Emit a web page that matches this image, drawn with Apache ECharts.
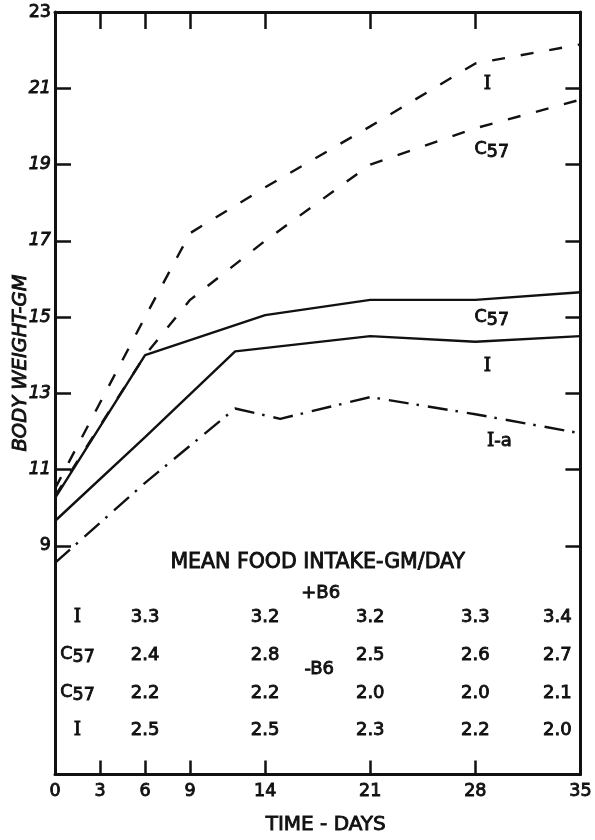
<!DOCTYPE html>
<html><head><meta charset="utf-8">
<script src="https://cdn.jsdelivr.net/npm/echarts@6/dist/echarts.min.js"></script>
<style>html,body{margin:0;padding:0;background:#fff}#c{width:595px;height:840px}</style>
</head><body><div id="c"></div>
<script>
// ---- tick labels ----
const xTicks = [0, 3, 6, 9, 14, 21, 28, 35];
const yTicks = [9, 11, 13, 15, 17, 19, 21, 23];

// ---- body weight curves [day, grams] ----
const dashedI   = [[0,10.5],[6,15.0],[9,17.2],[14,18.4],[21,20.0],[28,21.65],[35,22.15]];
const dashedC57 = [[0,10.3],[6,14.0],[9,15.45],[14,17.0],[21,19.0],[28,19.95],[35,20.7]];
const solidC57  = [[0,10.25],[6,14.0],[14,15.05],[21,15.45],[28,15.45],[35,15.65]];
const solidI    = [[0,9.65],[6,11.85],[12,14.1],[21,14.5],[28,14.35],[35,14.5]];
const dashDotIa = [[0,8.55],[6,10.65],[12,12.6],[15,12.33],[21,12.9],[28,12.45],[35,11.95]];
const curveNames = ['I', 'C57', 'C57', 'I', 'I-a'];

// ---- mean food intake table (gm/day) ----
const foodDays     = [6, 14, 21, 28, 35];
const foodStrains  = ['I', 'C57', 'C57', 'I'];
const foodIplus    = [3.3, 3.2, 3.2, 3.3, 3.4];
const foodC57plus  = [2.4, 2.8, 2.5, 2.6, 2.7];
const foodC57minus = [2.2, 2.2, 2.0, 2.0, 2.1];
const foodIminus   = [2.5, 2.5, 2.3, 2.2, 2.0];
const tableTitle = 'MEAN FOOD INTAKE-GM/DAY';
const groupLabels = ['+B6', '-B6'];

// ---- styling / layout ----
const INK = '#111111';
const F = 'DejaVu Sans';
const SERIF = 'DejaVu Serif';
const BW = 0.9;
const txt = (size, extra) => Object.assign({fontFamily: F, fontSize: size, color: INK,
  textBorderColor: INK, textBorderWidth: BW}, extra || {});

const richCommon = {
  c: txt(17.5, {verticalAlign: 'top', lineHeight: 21}),
  s: txt(17.5, {verticalAlign: 'bottom', lineHeight: 21}),
  r: txt(18.5, {fontFamily: SERIF}),
  t: txt(18),
  v: txt(18),
  h: txt(20.5)
};
function nameRich(name) {
  if (name === 'C57') return '{c|C}{s|57}';
  if (name === 'I') return '{r|I}';
  if (name === 'I-a') return '{r|I}{t|-a}';
  return '{t|' + name + '}';
}

// annotation placement (layout, in axis units)
const curveLabelPos = [[28.8, 21.1], [29.1, 19.35], [29.1, 14.95], [28.8, 13.7], [29.6, 11.75]];
const rowLevels = [7.12, 6.12, 5.12, 4.16];
const rowLabelX = 1.5;
const titlePos = [17.5, 8.56];
const groupPos = [[17.7, 7.74], [17.6, 5.77]];

const annot = [];
curveNames.forEach((n, i) => annot.push({value: curveLabelPos[i], label: {formatter: nameRich(n)}}));
const rows = [foodIplus, foodC57plus, foodC57minus, foodIminus];
rows.forEach((row, r) => {
  annot.push({value: [rowLabelX, rowLevels[r]], label: {formatter: nameRich(foodStrains[r])}});
  row.forEach((v, c) => annot.push({
    value: [foodDays[c], rowLevels[r]],
    label: {formatter: '{v|' + v.toFixed(1) + '}', offset: c === foodDays.length - 1 ? [-23, 0] : [0, 0]}
  }));
});
annot.push({value: titlePos, label: {formatter: '{h|' + tableTitle + '}'}});
groupLabels.forEach((g, i) => annot.push({value: groupPos[i], label: {formatter: '{t|' + g + '}'}}));

const axisLine = {show: true, onZero: false, lineStyle: {color: INK, width: 3}};
const tickStyle = {color: INK, width: 2.5};

const chart = echarts.init(document.getElementById('c'), null, {width: 595, height: 840});
chart.setOption({
  animation: false,
  backgroundColor: '#ffffff',
  grid: {left: 55, right: 3, top: 12, bottom: 51},
  xAxis: [
    {type: 'value', min: 0, max: 35, position: 'bottom',
     axisLine: axisLine,
     axisTick: {inside: true, length: 14, customValues: xTicks, lineStyle: tickStyle},
     axisLabel: Object.assign({customValues: xTicks, margin: 8}, txt(17.5)),
     splitLine: {show: false},
     name: 'TIME - DAYS', nameLocation: 'middle', nameGap: 40,
     nameTextStyle: Object.assign(txt(20), {padding: [0, 0, 0, 16]})},
    {type: 'value', min: 0, max: 35, position: 'top',
     axisLine: axisLine,
     axisTick: {inside: true, length: 17, customValues: xTicks, lineStyle: tickStyle},
     axisLabel: {show: false}, splitLine: {show: false}}
  ],
  yAxis: [
    {type: 'value', min: 3, max: 23, position: 'left',
     axisLine: axisLine,
     axisTick: {inside: true, length: 16, customValues: yTicks, lineStyle: tickStyle},
     axisLabel: {customValues: yTicks, margin: 4,
       formatter: v => (v === 23 || v === 9) ? '{n|' + v + '}' : '{i|' + v + '}',
       rich: {n: txt(17.5), i: txt(17.5, {fontStyle: 'italic'})}},
     splitLine: {show: false}},
    {type: 'value', min: 3, max: 23, position: 'right',
     axisLine: axisLine,
     axisTick: {inside: true, length: 15, customValues: yTicks, lineStyle: tickStyle},
     axisLabel: {show: false}, splitLine: {show: false}}
  ],
  graphic: [{
    type: 'text', x: 21, y: 363, rotation: Math.PI / 2,
    style: {text: 'BODY WEIGHT-GM', align: 'center', verticalAlign: 'middle',
      font: 'italic 19.5px "DejaVu Sans"', fill: INK, stroke: INK, lineWidth: BW}
  }],
  series: [
    {type: 'line', name: 'I dashed', data: dashedI, symbol: 'none', silent: true,
     lineStyle: {color: INK, width: 2.4, type: [13, 16], cap: 'butt'}},
    {type: 'line', name: 'C57 dashed', data: dashedC57, symbol: 'none', silent: true,
     lineStyle: {color: INK, width: 2.4, type: [13, 16], cap: 'butt'}},
    {type: 'line', name: 'C57 solid', data: solidC57, symbol: 'none', silent: true,
     lineStyle: {color: INK, width: 2.4}},
    {type: 'line', name: 'I solid', data: solidI, symbol: 'none', silent: true,
     lineStyle: {color: INK, width: 2.4}},
    {type: 'line', name: 'I-a', data: dashDotIa, symbol: 'none', silent: true,
     lineStyle: {color: INK, width: 2.4, type: [20, 8, 2.5, 9], cap: 'butt'}},
    {type: 'scatter', name: 'annotations', data: annot, symbol: 'circle', symbolSize: 1, silent: true,
     itemStyle: {color: 'rgba(255,255,255,0)'},
     label: {show: true, position: 'inside', color: INK, textBorderColor: INK, textBorderWidth: BW,
       opacity: 1, rich: richCommon}}
  ]
});
</script></body></html>
